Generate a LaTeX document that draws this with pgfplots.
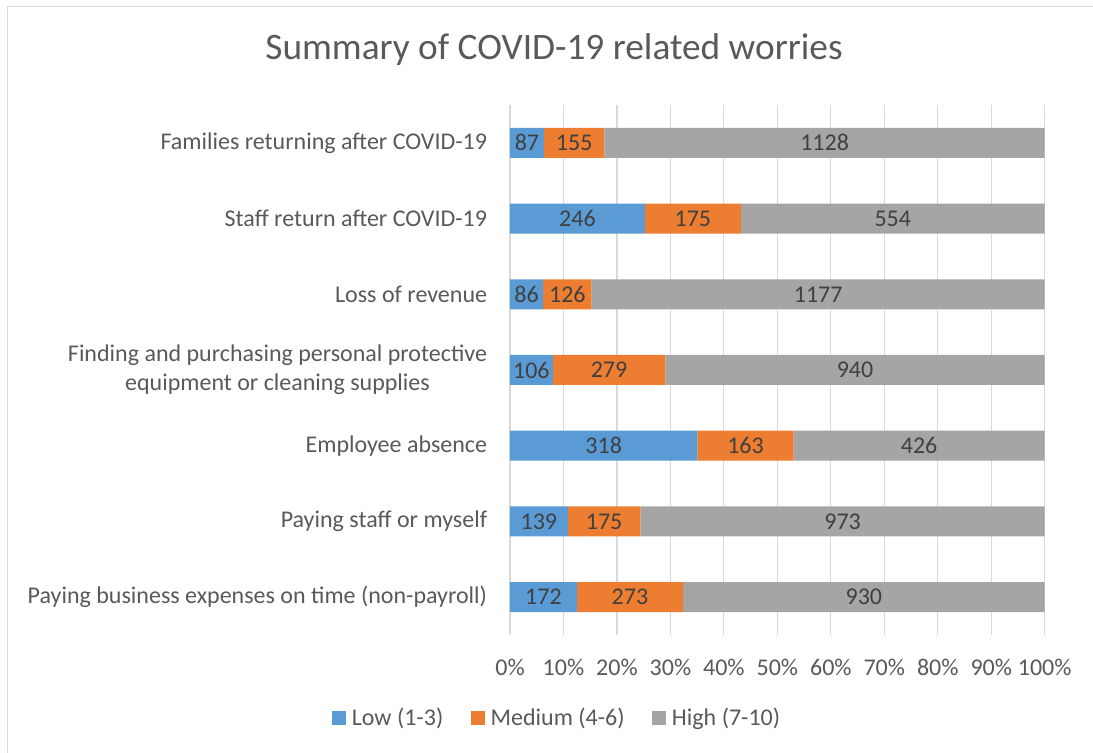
\documentclass[border=0pt]{standalone}
\usepackage{fontspec}
\setmainfont{Carlito}
\usepackage{pgfplots}
\usepackage{pgfplotstable}
\pgfplotsset{compat=1.18}
\definecolor{cLow}{HTML}{5B9BD5}
\definecolor{cMed}{HTML}{ED7D31}
\definecolor{cHigh}{HTML}{A5A5A5}
\definecolor{cGrid}{HTML}{D9D9D9}
\definecolor{cText}{HTML}{595959}
\definecolor{cLab}{HTML}{404040}

\pgfplotstableread{
y low med high
0 172 273 930
1 139 175 973
2 318 163 426
3 106 279 940
4 86 126 1177
5 246 175 554
6 87 155 1128
}\data
\pgfplotstablecreatecol[create col/expr={100*\thisrow{low}/(\thisrow{low}+\thisrow{med}+\thisrow{high})}]{lowp}\data
\pgfplotstablecreatecol[create col/expr={100*\thisrow{med}/(\thisrow{low}+\thisrow{med}+\thisrow{high})}]{medp}\data
\pgfplotstablecreatecol[create col/expr={100*\thisrow{high}/(\thisrow{low}+\thisrow{med}+\thisrow{high})}]{highp}\data

\begin{document}
\begin{tikzpicture}
\useasboundingbox (0,0) rectangle (819.75pt,564.75pt);
\draw[cGrid, line width=0.75pt] (5.25pt,-10pt) -- (5.25pt,559.5pt) -- (830pt,559.5pt);
\node[font=\fontsize{28}{33}\selectfont, text=cText] at (415.5pt,527.25pt) {Summary of COVID-19 related worries};
\begin{axis}[
  at={(382.5pt,88.5pt)}, anchor=south west,
  scale only axis, width=401.25pt, height=397.5pt,
  xbar stacked, bar width=22.5pt,
  xmin=0, xmax=100.05, ymin=-0.5, ymax=6.5,
  clip=false,
  xtick={0,10,...,100},
  xticklabel={\pgfmathprintnumber{\tick}\%},
  ytick={0,...,6},
  yticklabels={Paying business expenses on time (non-payroll),Paying staff or myself,Employee absence,{Finding and purchasing personal protective\\equipment or cleaning supplies},Loss of revenue,Staff return after COVID-19,Families returning after COVID-19},
  /pgf/number format/assume math mode=true,
  tick label style={font=\fontsize{18}{21.5}\selectfont, text=cText},
  yticklabel style={align=center, inner sep=0pt, anchor=east, xshift=-17pt},
  xticklabel style={inner sep=0pt, anchor=center, yshift=-24pt},
  major tick length=0pt,
  axis line style={draw=none},
  xmajorgrids, major grid style={cGrid, line width=0.9pt},
  point meta=explicit,
  nodes near coords={\pgfmathprintnumber[assume math mode=true,1000 sep={}]{\pgfplotspointmeta}},
  every node near coord/.append style={font=\fontsize{18}{21}\selectfont, text=cLab},
  legend style={at={(axis description cs:0.0916,-0.1566)}, anchor=center, draw=none, legend columns=3, font=\fontsize{18}{21}\selectfont, text=cText, /tikz/every even column/.append style={column sep=16pt}, nodes={inner xsep=4.5pt}},
  legend image code/.code={\fill[#1] (0pt,-5.25pt) rectangle (10.5pt,5.25pt);},
]
\addplot[fill=cLow, draw=none] table[x=lowp, y=y, meta=low] \data;
\addplot[fill=cMed, draw=none] table[x=medp, y=y, meta=med] \data;
\addplot[fill=cHigh, draw=none] table[x=highp, y=y, meta=high] \data;
\legend{Low (1-3), Medium (4-6), High (7-10)}
\end{axis}
\end{tikzpicture}
\end{document}
